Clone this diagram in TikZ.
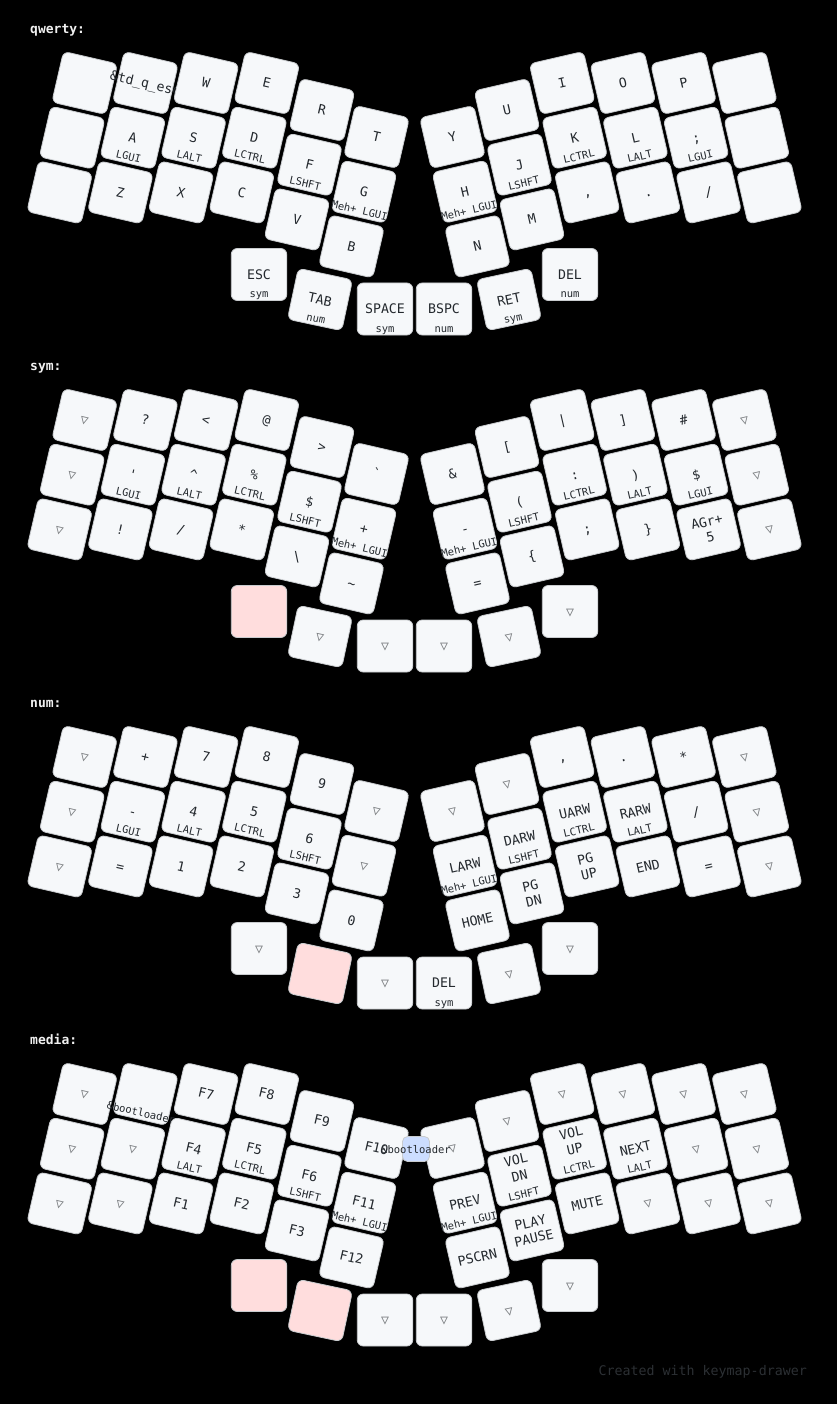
\documentclass[tikz,border=0pt]{standalone}
\usepackage{fontspec}
\setmonofont{DejaVu Sans Mono}
\definecolor{keyfill}{HTML}{F6F8FA}
\definecolor{keyline}{HTML}{C9CCCF}
\definecolor{txt}{HTML}{24292E}
\definecolor{transc}{HTML}{7B7E81}
\definecolor{heldfill}{HTML}{FFDDDD}
\definecolor{combofill}{HTML}{CCDDFF}
\definecolor{labeltxt}{HTML}{F0F0F0}
\definecolor{foot}{HTML}{2C3034}
\tikzset{
  keybox/.style={draw=keyline, line width=0.8pt, fill=keyfill, rounded corners=6pt,
    minimum width=55.5pt, minimum height=52pt, inner sep=0pt},
  held/.style={keybox/.append style={fill=heldfill}},
  taplbl/.style={font=\ttfamily\fontsize{13.2}{16}\selectfont, text=txt, inner sep=0pt,
    text height=9.6pt, text depth=0pt, anchor=center},
  holdlbl/.style={font=\ttfamily\fontsize{10.5}{12}\selectfont, text=txt, inner sep=0pt, anchor=base},
  combobox/.style={draw=keyline, line width=0.8pt, fill=combofill, rounded corners=5pt,
    minimum width=27pt, minimum height=25pt, inner sep=0pt},
  layerlbl/.style={font=\ttfamily\bfseries\fontsize{13}{15}\selectfont, text=labeltxt, inner sep=0pt, anchor=base west},
  footlbl/.style={font=\ttfamily\fontsize{13.3}{15}\selectfont, text=foot, inner sep=0pt, anchor=base east}
}
\newcommand\tri{\textcolor{transc}{▽}}
\newcommand\TwoL[3][0]{\makebox[0pt]{\raisebox{\dimexpr8pt+#1pt\relax}[0pt][0pt]{#2}}\makebox[0pt]{\raisebox{\dimexpr-8pt+#1pt\relax}[0pt][0pt]{#3}}}
% positions: L = left half, M = mirrored right half
\newcommand\defpos[4]{%
  \expandafter\def\csname pos L#1\endcsname{{#2}{#3}{#4}}%
  \expandafter\edef\csname pos M#1\endcsname{{\fpeval{829-#2}}{#3}{\fpeval{-(#4)}}}}
\defpos{11}{84.7}{83}{-13}
\defpos{12}{145.4}{83}{-13}
\defpos{13}{206.1}{83}{-13}
\defpos{14}{266.8}{83}{-13}
\defpos{15}{322}{110}{-13}
\defpos{16}{376.5}{137}{-13}
\defpos{21}{72.2}{137.7}{-13}
\defpos{22}{132.9}{137.7}{-13}
\defpos{23}{193.6}{137.7}{-13}
\defpos{24}{254.3}{137.7}{-13}
\defpos{25}{309.5}{164.7}{-13}
\defpos{26}{364}{191.7}{-13}
\defpos{31}{59.7}{192.4}{-13}
\defpos{32}{120.4}{192.4}{-13}
\defpos{33}{181.1}{192.4}{-13}
\defpos{34}{241.8}{192.4}{-13}
\defpos{35}{297}{219.4}{-13}
\defpos{36}{351.5}{246.4}{-13}
\defpos{T1}{259}{274.5}{0}
\defpos{T2}{320}{299.5}{-12}
\defpos{T3}{385}{309}{0}
\newcommand\KeyAt[7]{%
  \begin{scope}[shift={(#1,#2+\ly)},rotate=#3,transform shape,#7]
    \node[keybox] (#4) at (0,0) {};
    \node[taplbl] (#4-t) at (0,0) {#5};
    \if\relax\detokenize{#6}\relax\else\node[holdlbl] (#4-h) at (0,23) {#6};\fi
  \end{scope}}
\newcommand\Key[4]{%
  \expandafter\expandafter\expandafter\KeyAt\csname pos #1\endcsname{\lp#1}{#2}{#3}{#4}}
\begin{document}
\begin{tikzpicture}[x=1pt,y=-1pt]
\fill[black] (0,0) rectangle (837,1404);
\useasboundingbox (0,0) rectangle (837,1404);
% ================= qwerty
\def\ly{0}\def\lp{q}
\node[layerlbl] (lbl-q) at (30,33.5) {qwerty:};
\Key{L11}{}{}{}
\Key{L12}{\&td\_q\_esc}{}{}
\Key{L13}{W}{}{}
\Key{L14}{E}{}{}
\Key{L15}{R}{}{}
\Key{L16}{T}{}{}
\Key{M16}{Y}{}{}
\Key{M15}{U}{}{}
\Key{M14}{I}{}{}
\Key{M13}{O}{}{}
\Key{M12}{P}{}{}
\Key{M11}{}{}{}
\Key{L21}{}{}{}
\Key{L22}{A}{LGUI}{}
\Key{L23}{S}{LALT}{}
\Key{L24}{D}{LCTRL}{}
\Key{L25}{F}{LSHFT}{}
\Key{L26}{G}{Meh+ LGUI}{}
\Key{M26}{H}{Meh+ LGUI}{}
\Key{M25}{J}{LSHFT}{}
\Key{M24}{K}{LCTRL}{}
\Key{M23}{L}{LALT}{}
\Key{M22}{;}{LGUI}{}
\Key{M21}{}{}{}
\Key{L31}{}{}{}
\Key{L32}{Z}{}{}
\Key{L33}{X}{}{}
\Key{L34}{C}{}{}
\Key{L35}{V}{}{}
\Key{L36}{B}{}{}
\Key{M36}{N}{}{}
\Key{M35}{M}{}{}
\Key{M34}{,}{}{}
\Key{M33}{.}{}{}
\Key{M32}{/}{}{}
\Key{M31}{}{}{}
\Key{LT1}{ESC}{sym}{}
\Key{LT2}{TAB}{num}{}
\Key{LT3}{SPACE}{sym}{}
\Key{MT3}{BSPC}{num}{}
\Key{MT2}{RET}{sym}{}
\Key{MT1}{DEL}{num}{}
% ================= sym
\def\ly{337}\def\lp{s}
\node[layerlbl] (lbl-s) at (30,370.5) {sym:};
\Key{L11}{\tri}{}{}
\Key{L12}{?}{}{}
\Key{L13}{<}{}{}
\Key{L14}{@}{}{}
\Key{L15}{>}{}{}
\Key{L16}{\textasciigrave}{}{}
\Key{M16}{\&}{}{}
\Key{M15}{[}{}{}
\Key{M14}{|}{}{}
\Key{M13}{]}{}{}
\Key{M12}{\#}{}{}
\Key{M11}{\tri}{}{}
\Key{L21}{\tri}{}{}
\Key{L22}{\textquotesingle}{LGUI}{}
\Key{L23}{\textasciicircum}{LALT}{}
\Key{L24}{\%}{LCTRL}{}
\Key{L25}{\$}{LSHFT}{}
\Key{L26}{+}{Meh+ LGUI}{}
\Key{M26}{-}{Meh+ LGUI}{}
\Key{M25}{(}{LSHFT}{}
\Key{M24}{:}{LCTRL}{}
\Key{M23}{)}{LALT}{}
\Key{M22}{\$}{LGUI}{}
\Key{M21}{\tri}{}{}
\Key{L31}{\tri}{}{}
\Key{L32}{!}{}{}
\Key{L33}{/}{}{}
\Key{L34}{*}{}{}
\Key{L35}{\textbackslash}{}{}
\Key{L36}{\textasciitilde}{}{}
\Key{M36}{=}{}{}
\Key{M35}{\{}{}{}
\Key{M34}{;}{}{}
\Key{M33}{\}}{}{}
\Key{M32}{\TwoL{AGr+}{5}}{}{}
\Key{M31}{\tri}{}{}
\Key{LT1}{}{}{held}
\Key{LT2}{\tri}{}{}
\Key{LT3}{\tri}{}{}
\Key{MT3}{\tri}{}{}
\Key{MT2}{\tri}{}{}
\Key{MT1}{\tri}{}{}
% ================= num
\def\ly{674}\def\lp{n}
\node[layerlbl] (lbl-n) at (30,707.5) {num:};
\Key{L11}{\tri}{}{}
\Key{L12}{+}{}{}
\Key{L13}{7}{}{}
\Key{L14}{8}{}{}
\Key{L15}{9}{}{}
\Key{L16}{\tri}{}{}
\Key{M16}{\tri}{}{}
\Key{M15}{\tri}{}{}
\Key{M14}{,}{}{}
\Key{M13}{.}{}{}
\Key{M12}{*}{}{}
\Key{M11}{\tri}{}{}
\Key{L21}{\tri}{}{}
\Key{L22}{-}{LGUI}{}
\Key{L23}{4}{LALT}{}
\Key{L24}{5}{LCTRL}{}
\Key{L25}{6}{LSHFT}{}
\Key{L26}{\tri}{}{}
\Key{M26}{LARW}{Meh+ LGUI}{}
\Key{M25}{DARW}{LSHFT}{}
\Key{M24}{UARW}{LCTRL}{}
\Key{M23}{RARW}{LALT}{}
\Key{M22}{/}{}{}
\Key{M21}{\tri}{}{}
\Key{L31}{\tri}{}{}
\Key{L32}{=}{}{}
\Key{L33}{1}{}{}
\Key{L34}{2}{}{}
\Key{L35}{3}{}{}
\Key{L36}{0}{}{}
\Key{M36}{HOME}{}{}
\Key{M35}{\TwoL{PG}{DN}}{}{}
\Key{M34}{\TwoL{PG}{UP}}{}{}
\Key{M33}{END}{}{}
\Key{M32}{=}{}{}
\Key{M31}{\tri}{}{}
\Key{LT1}{\tri}{}{}
\Key{LT2}{}{}{held}
\Key{LT3}{\tri}{}{}
\Key{MT3}{DEL}{sym}{}
\Key{MT2}{\tri}{}{}
\Key{MT1}{\tri}{}{}
% ================= media
\def\ly{1011}\def\lp{m}
\node[layerlbl] (lbl-m) at (30,1044.5) {media:};
\Key{L11}{\tri}{}{}
\Key{L12}{}{\&bootloader}{}
\Key{L13}{F7}{}{}
\Key{L14}{F8}{}{}
\Key{L15}{F9}{}{}
\Key{L16}{F10}{}{}
\Key{M16}{\tri}{}{}
\Key{M15}{\tri}{}{}
\Key{M14}{\tri}{}{}
\Key{M13}{\tri}{}{}
\Key{M12}{\tri}{}{}
\Key{M11}{\tri}{}{}
\Key{L21}{\tri}{}{}
\Key{L22}{\tri}{}{}
\Key{L23}{F4}{LALT}{}
\Key{L24}{F5}{LCTRL}{}
\Key{L25}{F6}{LSHFT}{}
\Key{L26}{F11}{Meh+ LGUI}{}
\Key{M26}{PREV}{Meh+ LGUI}{}
\Key{M25}{\TwoL[8]{VOL}{DN}}{LSHFT}{}
\Key{M24}{\TwoL[8]{VOL}{UP}}{LCTRL}{}
\Key{M23}{NEXT}{LALT}{}
\Key{M22}{\tri}{}{}
\Key{M21}{\tri}{}{}
\Key{L31}{\tri}{}{}
\Key{L32}{\tri}{}{}
\Key{L33}{F1}{}{}
\Key{L34}{F2}{}{}
\Key{L35}{F3}{}{}
\Key{L36}{F12}{}{}
\Key{M36}{PSCRN}{}{}
\Key{M35}{\TwoL{PLAY}{PAUSE}}{}{}
\Key{M34}{MUTE}{}{}
\Key{M33}{\tri}{}{}
\Key{M32}{\tri}{}{}
\Key{M31}{\tri}{}{}
\Key{LT1}{}{}{held}
\Key{LT2}{}{}{held}
\Key{LT3}{\tri}{}{}
\Key{MT3}{\tri}{}{}
\Key{MT2}{\tri}{}{}
\Key{MT1}{\tri}{}{}
% combo
\node[combobox] (combo-boot) at (416,1149) {};
\node[holdlbl] (combo-boot-t) at (416,1153) {\&bootloader};
% footer
\node[footlbl] (footer) at (807,1375) {Created with keymap-drawer};
\end{tikzpicture}
\end{document}
